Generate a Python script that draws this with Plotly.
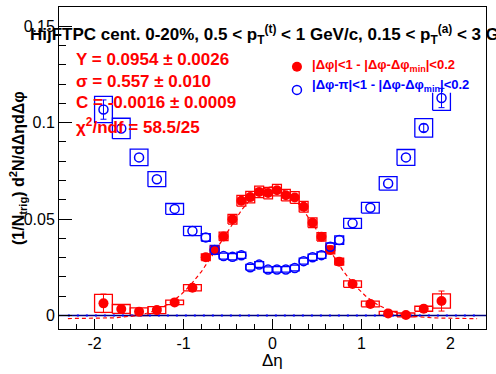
import numpy as np
import plotly.graph_objects as go

# ---------------- data ----------------
deta = [-1.9, -1.7, -1.5, -1.3, -1.1, -0.9, -0.75, -0.65, -0.55, -0.45, -0.35, -0.25, -0.15, -0.05,
        0.05, 0.15, 0.25, 0.35, 0.45, 0.55, 0.65, 0.75, 0.9, 1.1, 1.3, 1.5, 1.7, 1.9]
bin_width = [0.2, 0.2, 0.2, 0.2, 0.2, 0.2, 0.1, 0.1, 0.1, 0.1, 0.1, 0.1, 0.1, 0.1,
             0.1, 0.1, 0.1, 0.1, 0.1, 0.1, 0.1, 0.1, 0.2, 0.2, 0.2, 0.2, 0.2, 0.2]

# near side: |dphi|<1 - |dphi-dphi_min|<0.2
near_val = [0.0063, 0.0034, 0.0020, 0.0028, 0.0068, 0.0144, 0.0302, 0.0340, 0.0410, 0.0499, 0.0595, 0.0614, 0.0641, 0.0635,
            0.0650, 0.0624, 0.0612, 0.0564, 0.0481, 0.0408, 0.0340, 0.0279, 0.0163, 0.0060, 0.0011, 0.0003, 0.0035, 0.0075]
near_stat = [0.0048, 0.0018, 0.0015, 0.0015, 0.0014, 0.0012, 0.0010, 0.0010, 0.0010, 0.0010, 0.0010, 0.0010, 0.0010, 0.0010,
             0.0010, 0.0010, 0.0010, 0.0010, 0.0010, 0.0010, 0.0010, 0.0010, 0.0012, 0.0014, 0.0015, 0.0015, 0.0018, 0.0052]
near_sys = [0.0047, 0.0023, 0.0020, 0.0018, 0.0012, 0.0016, 0.0017, 0.0018, 0.0022, 0.0025, 0.0028, 0.0030, 0.0030, 0.0030,
            0.0030, 0.0030, 0.0030, 0.0028, 0.0025, 0.0022, 0.0020, 0.0018, 0.0017, 0.0015, 0.0010, 0.0010, 0.0013, 0.0037]

# away side: |dphi-pi|<1 - |dphi-dphi_min|<0.2  (stat errors hidden by markers left as None)
away_val = [0.1068, 0.0970, 0.0820, 0.0707, 0.0553, 0.0438, 0.0405, 0.0340, 0.0308, 0.0305, 0.0312, 0.0250, 0.0264, 0.0238,
            0.0239, 0.0239, 0.0246, 0.0282, 0.0302, 0.0313, 0.0356, 0.0391, 0.0478, 0.0559, 0.0685, 0.0820, 0.0973, 0.1128]
away_stat = [0.0050, None, None, None, None, None, None, None, None, None, None, None, None, None,
             None, None, None, None, None, None, None, None, None, None, None, None, 0.0020, 0.0050]
away_sys = [0.0068, 0.0053, 0.0043, 0.0039, 0.0028, 0.0024, 0.0020, 0.0023, 0.0016, 0.0016, 0.0016, 0.0015, 0.0015, 0.0014,
            0.0014, 0.0014, 0.0015, 0.0016, 0.0016, 0.0017, 0.0020, 0.0022, 0.0026, 0.0028, 0.0035, 0.0041, 0.0048, 0.0064]

# fit (Gaussian + constant) parameters as printed
FIT_Y, FIT_SIGMA, FIT_C = 0.0954, 0.557, -0.0016
FIT_RANGE = [-2.3, 2.3]

stats_lines = ["Y = 0.0954 &#177; 0.0026", "σ = 0.557 &#177; 0.010",
               "C = -0.0016 &#177; 0.0009", "χ<sup>2</sup>/ndf = 58.5/25"]
legend_near = "|Δφ|&lt;1 - |Δφ-Δφ<sub>min</sub>|&lt;0.2"
legend_away = "|Δφ-π|&lt;1 - |Δφ-Δφ<sub>min</sub>|&lt;0.2"
title_text = ("HijFTPC cent. 0-20%, 0.5 &lt; p<sub>T</sub><sup>(t)</sup> &lt; 1 GeV/c, "
              "0.15 &lt; p<sub>T</sub><sup>(a)</sup> &lt; 3 GeV/c")

RED = "#ff0000"
BLUE = "#0000ff"
FONT = "Liberation Sans, Arial, Helvetica, sans-serif"


def box_path(xc, w, yc, h):
    xs, ys = [], []
    for x, bw, y, s in zip(xc, w, yc, h):
        x0, x1 = x - bw / 2, x + bw / 2
        xs += [x0, x1, x1, x0, x0, None]
        ys += [y - s, y - s, y + s, y + s, y - s, None]
    return xs, ys


fig = go.Figure()

# systematic boxes
bx, by = box_path(deta, bin_width, away_val, away_sys)
fig.add_trace(go.Scatter(x=bx, y=by, mode="lines", line=dict(color=BLUE, width=1.3),
                         hoverinfo="skip", showlegend=False))
rx, ry = box_path(deta, bin_width, near_val, near_sys)
fig.add_trace(go.Scatter(x=rx, y=ry, mode="lines", line=dict(color=RED, width=1.3),
                         hoverinfo="skip", showlegend=False))

# legend background (white box)
fig.add_trace(go.Scatter(x=[0.2, 2.38, 2.38, 0.2, 0.2], y=[0.1155, 0.1155, 0.137, 0.137, 0.1155],
                         mode="lines", fill="toself", fillcolor="white", line=dict(width=0),
                         hoverinfo="skip", showlegend=False))

# zero lines
fig.add_trace(go.Scatter(x=[-2.4, 2.4], y=[0, 0], mode="lines", line=dict(color="#000080", width=1.5),
                         hoverinfo="skip", showlegend=False))
fig.add_trace(go.Scatter(x=FIT_RANGE, y=[0, 0], mode="lines",
                         line=dict(color=BLUE, width=2, dash="2px,7px"),
                         hoverinfo="skip", showlegend=False))

# fit curve
xf = np.linspace(FIT_RANGE[0], FIT_RANGE[1], 400)
yf = FIT_Y * np.exp(-xf ** 2 / (2 * FIT_SIGMA ** 2)) / (np.sqrt(2 * np.pi) * FIT_SIGMA) + FIT_C
fig.add_trace(go.Scatter(x=xf, y=yf, mode="lines", line=dict(color=RED, width=1.2, dash="4px,3px"),
                         hoverinfo="skip", showlegend=False))

# data points
fig.add_trace(go.Scatter(x=deta, y=near_val, mode="markers",
                         marker=dict(symbol="circle", size=10, color=RED),
                         error_y=dict(type="data", array=near_stat, color=RED, thickness=1, width=3),
                         showlegend=False))
# away side: error bars only where visible, then markers
idx = [i for i, e in enumerate(away_stat) if e is not None]
fig.add_trace(go.Scatter(x=[deta[i] for i in idx], y=[away_val[i] for i in idx], mode="markers",
                         marker=dict(size=1, color="rgba(0,0,0,0)"),
                         error_y=dict(type="data", array=[away_stat[i] for i in idx], color=BLUE,
                                      thickness=1, width=3),
                         hoverinfo="skip", showlegend=False))
fig.add_trace(go.Scatter(x=deta, y=away_val, mode="markers",
                         marker=dict(symbol="circle-open", size=9, color=BLUE, line=dict(width=1.5)),
                         showlegend=False))

# legend markers
fig.add_trace(go.Scatter(x=[0.275], y=[0.129], mode="markers",
                         marker=dict(symbol="circle", size=10, color=RED), showlegend=False))
fig.add_trace(go.Scatter(x=[0.275], y=[0.117], mode="markers",
                         marker=dict(symbol="circle-open", size=9, color=BLUE, line=dict(width=1.5)),
                         showlegend=False))

ann = []
# title
ann.append(dict(text="<b>" + title_text + "</b>", xref="paper", yref="paper", x=-0.072, y=0.915,
                xanchor="left", yanchor="middle", showarrow=False,
                font=dict(family=FONT, size=17, color="black")))
# stats
for t, yp in zip(stats_lines, [0.8376, 0.770, 0.7028, 0.6304]):
    ann.append(dict(text="<b>" + t + "</b>", xref="paper", yref="paper", x=0.035, y=yp,
                    xanchor="left", yanchor="middle", showarrow=False,
                    font=dict(family=FONT, size=17, color=RED)))
# legend text
ann.append(dict(text="<b>" + legend_near + "</b>", xref="paper", yref="paper", x=0.588, y=0.8168,
                xanchor="left", yanchor="middle", showarrow=False,
                font=dict(family=FONT, size=13, color=RED)))
ann.append(dict(text="<b>" + legend_away + "</b>", xref="paper", yref="paper", x=0.588, y=0.7547,
                xanchor="left", yanchor="middle", showarrow=False,
                font=dict(family=FONT, size=13, color=BLUE)))
# axis titles
ann.append(dict(text="<b>(1/N<sub>trig</sub>) d<sup>2</sup>N/dΔηdΔφ</b>", xref="paper", yref="paper",
                x=-0.096, y=0.5, textangle=-90, xanchor="center", yanchor="middle", showarrow=False,
                font=dict(family=FONT, size=16, color="black")))
ann.append(dict(text="Δη", xref="paper", yref="paper", x=0.5, y=-0.097,
                xanchor="center", yanchor="middle", showarrow=False,
                font=dict(family=FONT, size=17, color="black")))

fig.update_layout(
    width=496, height=374,
    margin=dict(l=59, r=10, t=7, b=45),
    paper_bgcolor="white", plot_bgcolor="white",
    annotations=ann,
    font=dict(family=FONT, size=16, color="black"),
    xaxis=dict(range=[-2.4, 2.4], showgrid=False, zeroline=False, showline=True, mirror=True,
               linecolor="black", linewidth=1, ticks="inside", ticklen=10, tickcolor="black",
               tickvals=[-2, -1, 0, 1, 2], ticktext=["-2", "-1", "0", "1", "2"],
               minor=dict(ticks="inside", ticklen=5, dtick=0.2, tick0=0, tickcolor="black", showgrid=False),
               tickfont=dict(family=FONT, size=16)),
    yaxis=dict(range=[-0.007, 0.16], showgrid=False, zeroline=False, showline=True, mirror=True,
               linecolor="black", linewidth=1, ticks="inside", ticklen=13, tickcolor="black",
               tickvals=[0, 0.05, 0.1, 0.15], ticktext=["0", "0.05", "0.1", "0.15"],
               minor=dict(ticks="inside", ticklen=7, dtick=0.01, tick0=0, tickcolor="black", showgrid=False),
               tickfont=dict(family=FONT, size=16)),
)

fig.write_html("out.html", config={"displayModeBar": False},
               post_script="document.body.style.margin='0';document.body.style.overflow='hidden';")
